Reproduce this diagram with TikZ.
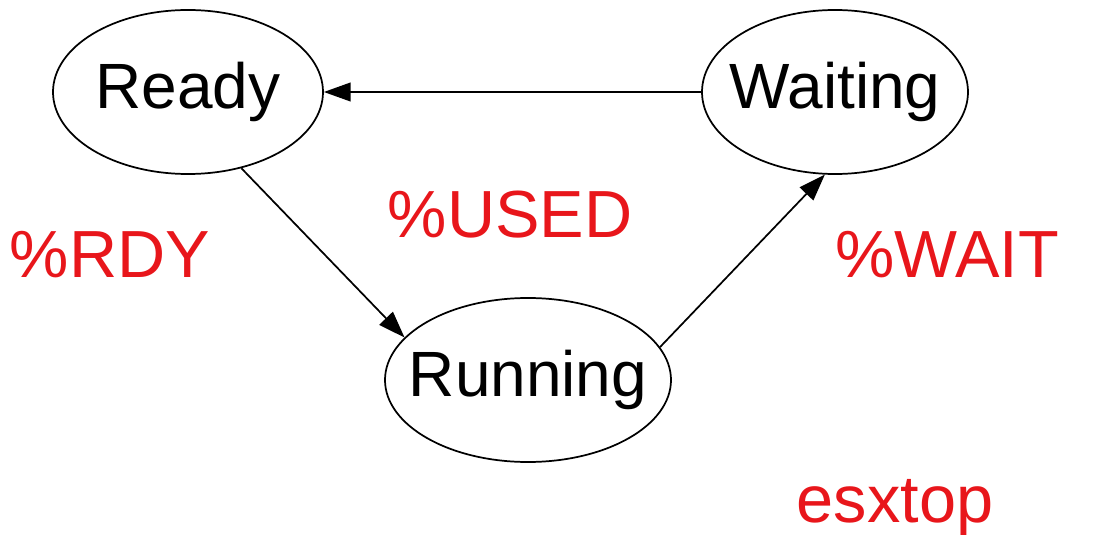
\documentclass[tikz,border=0pt]{standalone}
\usepackage{fontspec}
\setmainfont{Liberation Sans}
\usetikzlibrary{arrows.meta,shapes.geometric}
\usepackage{xcolor}
\definecolor{lblred}{HTML}{E8161B}
\definecolor{dark}{HTML}{000000}
\tikzset{
  procstate/.style={draw=dark, ellipse, line width=1.3pt, inner sep=0pt, minimum height=123pt, font=\fontsize{48}{56}\selectfont},
  metric/.style={text=lblred, anchor=base, inner sep=0pt, font=\fontsize{50}{58}\selectfont},
  arrow/.style={-{Triangle[length=20pt, width=14pt]}, line width=1.3pt, draw=dark}
}
\begin{document}
\begin{tikzpicture}[x=0.75pt, y=-0.75pt]
  \useasboundingbox (0,0) rectangle (1111,535);
  % the states
  \node[procstate, minimum width=202.5pt] (rdy) at (188,92) {\makebox[0pt]{Ready}};
  \node[procstate, minimum width=199.5pt] (wait) at (835,92) {\makebox[0pt]{Waiting}};
  \node[procstate, minimum width=214.5pt] (run) at (528,380) {\makebox[0pt]{Running}};
  % counters
  \node[metric] (lblrdy) at (110,277) {\%RDY};
  \node[metric] (lblused) at (510,237) {\%USED};
  \node[metric] (lblwait) at (947,277) {\%WAIT};
  \node[metric] (lbltop) at (895,522) {esxtop};
  % transitions
  \draw[arrow] (wait) -- (rdy);
  \draw[arrow] (rdy.-55) -- (run.161);
  \draw[arrow] (run.14) -- (wait.263);
\end{tikzpicture}
\end{document}
